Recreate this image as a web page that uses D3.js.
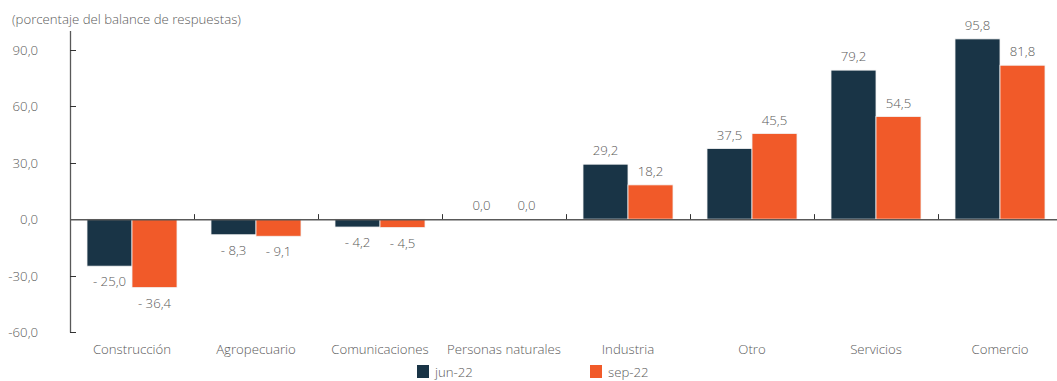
<!DOCTYPE html>
<html>
<head>
<meta charset="utf-8">
<script src="https://cdn.jsdelivr.net/npm/d3@7"></script>
<style>
  body { margin: 0; background: #fff; }
  text { font-family: "Open Sans", sans-serif; font-weight: 300; fill: #5a5a5a; }
</style>
</head>
<body>
<script>
// Data
var categories = ["Construcción", "Agropecuario", "Comunicaciones", "Personas naturales",
  "Industria", "Otro", "Servicios", "Comercio"];
var jun22 = [-25.0, -8.3, -4.2, 0.0, 29.2, 37.5, 79.2, 95.8];
var sep22 = [-36.4, -9.1, -4.5, 0.0, 18.2, 45.5, 54.5, 81.8];
var seriesNames = ["jun-22", "sep-22"];
var yTicks = [-60, -30, 0, 30, 60, 90];

var width = 1057, height = 381;
var colors = ["#193446", "#f15a29"];
var fs = "13.2px";

var svg = d3.select("body").append("svg")
  .attr("width", width)
  .attr("height", height);

var x = d3.scaleBand()
  .domain(categories)
  .range([70, 1062]);

var sub = d3.scaleBand()
  .domain(seriesNames)
  .range([17, x.bandwidth() - 17]);

var y = d3.scaleLinear()
  .domain([-60, 100])
  .range([332, 31]);

var fmt = function(v) {
  var s = Math.abs(v).toFixed(1).replace(".", ",");
  return v < 0 ? "- " + s : s;
};

// title
svg.append("text")
  .attr("x", 12)
  .attr("y", 24)
  .style("font-size", fs)
  .text("(porcentaje del balance de respuestas)");

// y axis
svg.append("line")
  .attr("x1", 70.5).attr("x2", 70.5)
  .attr("y1", y(100)).attr("y2", y(-60) + 0.5)
  .attr("stroke", "#595959").attr("stroke-width", 1.3);

svg.selectAll(".ytick").data(yTicks).enter().append("line")
  .attr("x1", 70).attr("x2", 76)
  .attr("y1", d => Math.round(y(d)) + 0.5).attr("y2", d => Math.round(y(d)) + 0.5)
  .attr("stroke", "#333").attr("stroke-width", 1);

svg.selectAll(".ylab").data(yTicks).enter().append("text")
  .attr("x", 38)
  .attr("y", d => y(d) + 5)
  .attr("text-anchor", "end")
  .style("font-size", fs)
  .text(d => d.toFixed(1).replace(".", ","));

// bars
var rows = categories.map((c, i) => ({ cat: c, vals: [jun22[i], sep22[i]] }));

var groups = svg.selectAll(".grp").data(rows).enter().append("g")
  .attr("transform", d => "translate(" + x(d.cat) + ",0)");

groups.selectAll("rect").data(d => d.vals.map((v, j) => ({ v: v, s: seriesNames[j], j: j })))
  .enter().append("rect")
  .attr("x", d => sub(d.s))
  .attr("width", sub.bandwidth())
  .attr("y", d => y(Math.max(0, d.v)))
  .attr("height", d => Math.abs(y(d.v) - y(0)))
  .attr("fill", d => colors[d.j])
  .attr("stroke", "#f3f3f3")
  .attr("stroke-width", 0.8);

groups.selectAll(".val").data(d => d.vals.map((v, j) => ({ v: v, s: seriesNames[j] })))
  .enter().append("text")
  .attr("x", d => sub(d.s) + sub.bandwidth() / 2)
  .attr("y", d => d.v < 0 ? y(d.v) + 20 : y(d.v) - 9)
  .attr("text-anchor", "middle")
  .style("font-size", fs)
  .text(d => fmt(d.v));

// x axis
svg.append("line")
  .attr("x1", 70).attr("x2", width)
  .attr("y1", y(0) + 0.5).attr("y2", y(0) + 0.5)
  .attr("stroke", "#595959").attr("stroke-width", 1.5);

svg.selectAll(".xtick").data(categories.slice(1)).enter().append("line")
  .attr("x1", d => Math.round(x(d)) + 0.5).attr("x2", d => Math.round(x(d)) + 0.5)
  .attr("y1", y(0) - 5).attr("y2", y(0))
  .attr("stroke", "#333").attr("stroke-width", 1);

svg.selectAll(".xlab").data(categories).enter().append("text")
  .attr("x", d => x(d) + x.bandwidth() / 2)
  .attr("y", 354)
  .attr("text-anchor", "middle")
  .style("font-size", fs)
  .text(d => d);

// legend
var legendX = [417, 590];
var legend = svg.selectAll(".leg").data(seriesNames).enter().append("g")
  .attr("transform", (d, i) => "translate(" + legendX[i] + ",365)");
legend.append("rect")
  .attr("width", 12).attr("height", 13)
  .attr("fill", (d, i) => colors[i]);
legend.append("text")
  .attr("x", 18).attr("y", 12)
  .style("font-size", fs)
  .text(d => d);
</script>
</body>
</html>
